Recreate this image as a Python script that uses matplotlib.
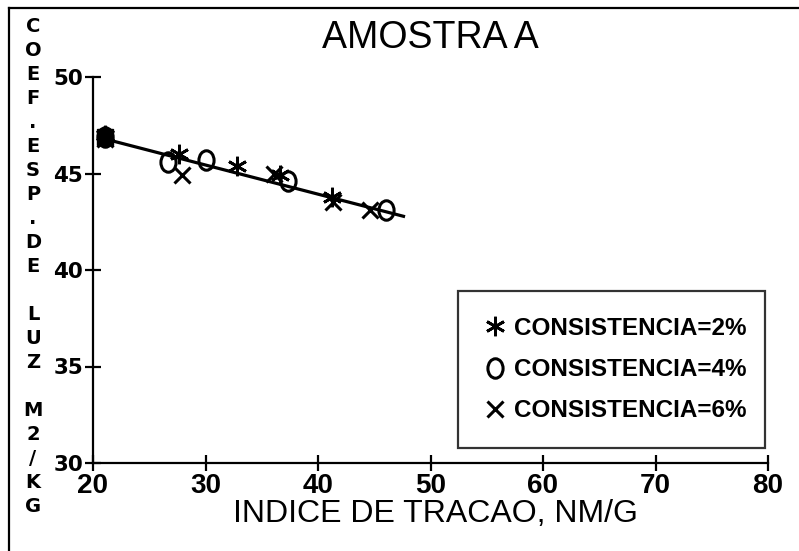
import matplotlib
matplotlib.use("Agg")
import matplotlib.pyplot as plt
import numpy as np
from matplotlib.lines import Line2D
from matplotlib.path import Path
from matplotlib.transforms import Affine2D

# ---------------- data ----------------
title = "AMOSTRA A"
xlabel = "INDICE DE TRACAO, NM/G"
ylabel_letters = ["C", "O", "E", "F", ".", "E", "S", "P", ".", "D", "E", " ",
                  "L", "U", "Z", " ", "M", "2", "/", "K", "G"]

x_c2 = [21.1, 27.6, 32.8, 36.6, 41.2]
y_c2 = [47.0, 46.0, 45.4, 44.9, 43.8]

x_c4 = [21.1, 26.7, 30.0, 37.3, 46.0]
y_c4 = [46.9, 45.6, 45.7, 44.6, 43.1]

x_c6 = [21.1, 27.9, 36.1, 41.3, 44.6]
y_c6 = [46.8, 44.9, 45.0, 43.5, 43.1]

x_shared = [21.1]
y_shared = [46.9]

fit_intercept = 49.97
fit_slope = -0.151
fit_range = [21.0, 47.6]

labels = ["CONSISTENCIA=2%", "CONSISTENCIA=4%", "CONSISTENCIA=6%"]
xticks = [20, 30, 40, 50, 60, 70, 80]
yticks = [30, 35, 40, 45, 50]

narrow = "Liberation Sans"

# ---------------- figure ----------------
fig = plt.figure(figsize=(7.99, 5.51), dpi=100)
W, H = 799, 551
ax = fig.add_axes([93 / W, 1 - 463 / H, (768 - 93) / W, (463 - 77) / H])

ellipse = Path.unit_circle().transformed(Affine2D().scale(0.78, 1.0))
aster = (6, 2, 0)

ax.plot(fit_range, [fit_intercept + fit_slope * v for v in fit_range],
        color="black", lw=2.3, zorder=2)

ax.plot(x_shared, y_shared, ls="none", marker="s", ms=11, mfc="black",
        mec="black", zorder=3)
ax.plot(x_c2, y_c2, ls="none", marker=aster, ms=14, mew=2.0, color="black",
        label=labels[0], zorder=4)
ax.plot(x_c4, y_c4, ls="none", marker=ellipse, ms=14, mew=2.2, mfc="none",
        mec="black", label=labels[1], zorder=4)
ax.plot(x_c6, y_c6, ls="none", marker="x", ms=11, mew=2.2, color="black",
        label=labels[2], zorder=4)

ax.set_xlim(20, 80)
ax.set_ylim(30, 50)
ax.set_xticks(xticks)
ax.set_yticks(yticks)
for s in ["top", "right"]:
    ax.spines[s].set_visible(False)
for s in ["left", "bottom"]:
    ax.spines[s].set_linewidth(1.6)
ax.tick_params(axis="both", direction="inout", length=12, width=1.6, color="black")
ax.tick_params(axis="y", pad=1)
ax.tick_params(axis="x", pad=1)
for t in ax.get_yticklabels():
    t.set_fontfamily("DejaVu Sans")
    t.set_fontweight("bold")
    t.set_fontsize(15.5)
for t in ax.get_xticklabels():
    t.set_fontfamily(narrow)
    t.set_fontweight("bold")
    t.set_fontsize(20)

leg = ax.legend(loc="lower left", bbox_to_anchor=(0.541, 0.039, 0.455, 0.401),
                mode="expand", frameon=True, fancybox=False, shadow=False,
                handlelength=0.9, handletextpad=0.35, labelspacing=0.75,
                borderpad=1.05, borderaxespad=0.0,
                prop={"family": narrow, "weight": "bold", "size": 17.5})
leg.get_frame().set_edgecolor("black")
leg.get_frame().set_linewidth(1.6)

fig.text(430 / W, 1 - 38 / H, title, ha="center", va="center",
         fontfamily=narrow, fontsize=27)
fig.text(435 / W, 1 - 514 / H, xlabel, ha="center", va="center",
         fontfamily=narrow, fontsize=23)

y0, step = 26, 24.0
for i, ch in enumerate(ylabel_letters):
    fig.text(33 / W, 1 - (y0 + i * step) / H, ch, ha="center", va="center",
             fontfamily="DejaVu Sans", fontweight="bold", fontsize=14)

# figure frame (left and top)
fig.add_artist(Line2D([9 / W, 9 / W], [0, 1 - 8 / H], transform=fig.transFigure,
                      color="black", lw=1.6))
fig.add_artist(Line2D([9 / W, 1], [1 - 8 / H, 1 - 8 / H], transform=fig.transFigure,
                      color="black", lw=1.6))

fig.savefig("out.png", dpi=100)
